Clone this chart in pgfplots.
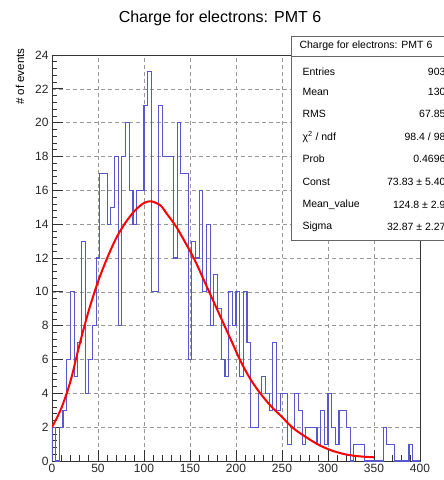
\documentclass[border=0pt]{standalone}
\usepackage{pgfplots}
\pgfplotsset{compat=1.18}
\usepackage{fontspec}
\setmainfont{Liberation Sans}
\definecolor{histblue}{RGB}{88,88,205}
\begin{document}
\begin{tikzpicture}[x=1pt,y=1pt]
\useasboundingbox (0,0) rectangle (444,480);
\begin{axis}[
  at={(52pt,19pt)}, anchor=south west, scale only axis,
  width=368pt, height=406pt,
  xmin=0, xmax=400, ymin=0, ymax=24,
  xtick={0,50,...,400}, ytick={0,2,...,24},
  minor x tick num=4, minor y tick num=4,
  tick align=inside, xtick pos=lower, ytick pos=left,
  major tick length=11pt, minor tick length=5.5pt,
  grid=major,
  major grid style={black!40, line width=0.6pt, dash pattern=on 4pt off 3pt},
  axis line style={black!80, line width=0.8pt},
  tick style={black!80, line width=0.7pt},
  ticklabel style={font=\fontsize{12}{14}\selectfont, text=black!85},
  /pgf/number format/assume math mode=true,
]
\addplot[const plot, histblue, line width=1.1pt] coordinates {
(0,0)(0,2)(4,0)(8,2)(12,3)(16,6)(20,10)(24,5)(28,7)(32,13)(36,4)(40,6)(44,8)(48,12)(52,17)(56,17)(60,14)(64,15)(68,18)(72,8)(76,18)(80,20)(84,16)(88,14)(92,16)(96,16)(100,21)(104,23)(108,10)(112,10)(116,21)(120,18)(124,18)(128,18)(132,12)(136,20)(140,17)(144,17)(148,6)(152,13)(156,12)(160,16)(164,10)(168,14)(172,8)(176,11)(180,9)(184,6)(188,5)(192,10)(196,8)(200,10)(204,5)(208,10)(212,7)(216,2)(220,2)(224,4)(228,5)(232,4)(236,3)(240,7)(244,3)(248,4)(252,4)(256,1)(260,2)(264,4)(268,3)(272,1)(276,2)(280,2)(284,2)(288,1)(292,3)(296,1)(300,4)(304,2)(308,1)(312,3)(316,3)(320,2)(324,0)(328,1)(332,1)(336,1)(340,0)(344,0)(348,0)(352,0)(356,0)(360,2)(364,1)(368,1)(372,0)(376,0)(380,0)(384,0)(388,1)(392,0)(396,0)(400,0)
};
\addplot[red, line width=2pt, smooth] coordinates {
(0,2.0)(10,3.1)(20,4.7)(30,6.9)(40,8.9)(50,10.6)(60,12.0)(70,13.2)(80,14.1)(90,14.8)(100,15.25)(108,15.35)(118,15.1)(125,14.6)(135,13.85)(145,12.9)(155,11.9)(165,10.7)(175,9.5)(185,8.3)(195,7.1)(205,5.9)(215,4.9)(225,4.1)(237,3.3)(250,2.6)(262,1.95)(275,1.45)(290,0.95)(305,0.6)(320,0.38)(335,0.27)(350,0.22)
};
\end{axis}
% title
\node[font=\fontsize{16}{19}\selectfont] at (220,462) {Charge for electrons: PMT 6};
% y label
\node[rotate=90, anchor=east, font=\fontsize{11.5}{13}\selectfont] at (20,435) {\# of events};
% stats box
\draw[fill=white, draw=black!60, line width=0.8pt] (291,240) rectangle (470,444);
\draw[black!60, line width=0.8pt] (291,424) -- (470,424);
\begin{scope}[font=\fontsize{10.5}{12}\selectfont]
\node[anchor=west] at (296,434) {Charge for electrons: PMT 6};
\node[anchor=west] at (299,408) {Entries};      \node[anchor=east] at (449,408) {903};
\node[anchor=west] at (299,388) {Mean};         \node[anchor=east] at (449,388) {130};
\node[anchor=west] at (299,366) {RMS};          \node[anchor=east] at (449,366) {67.85};
\node[anchor=west] at (299,343) {χ\textsuperscript{2} / ndf}; \node[anchor=east] at (449,343) {98.4 / 98};
\node[anchor=west] at (299,321) {Prob};         \node[anchor=east] at (449,321) {0.4696};
\node[anchor=west] at (299,298) {Const};        \node[anchor=east] at (449,298) {73.83 ± 5.40};
\node[anchor=west] at (299,275) {Mean\_value};  \node[anchor=east] at (449,275) {124.8 ± 2.9};
\node[anchor=west] at (299,253) {Sigma};        \node[anchor=east] at (449,253) {32.87 ± 2.27};
\end{scope}
\end{tikzpicture}
\end{document}
